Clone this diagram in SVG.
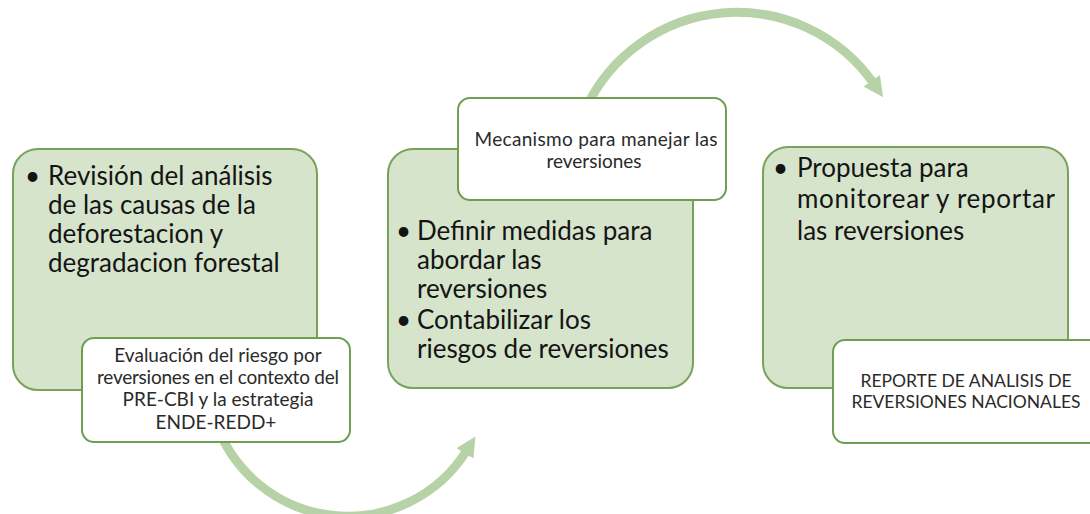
<svg xmlns="http://www.w3.org/2000/svg" width="1090" height="514" viewBox="0 0 1090 514">
<style>
.green{fill:#d6e4cc;stroke:#77a35a;stroke-width:2}
.white{fill:#ffffff;stroke:#6f9e50;stroke-width:2}
.big{font-family:Lato,"Liberation Sans",sans-serif;font-size:26px;fill:#141414}
.small{font-family:Lato,"Liberation Sans",sans-serif;font-size:19px;fill:#2a2a2a;text-anchor:middle}
.caps{font-size:17.5px}
.arc{fill:none;stroke:#b8d2a8;stroke-width:9}
</style>
<defs>
<marker id="ah" markerWidth="24" markerHeight="24" refX="4" refY="12" orient="auto" markerUnits="userSpaceOnUse">
<path d="M0,2 L20,12 L0,22 Z" fill="#b8d2a8"/>
</marker>
</defs>
<rect width="1090" height="514" fill="#ffffff"/>
<g id="connectors">
<path class="arc" d="M585,110 A167,167 0 0 1 874,84" marker-end="url(#ah)"/>
<path class="arc" d="M215,420 A140,140 0 0 0 467,450" marker-end="url(#ah)"/>
</g>
<g id="node-revision">
<rect class="green" x="13" y="149" width="304" height="241" rx="25"/>
<text class="big" x="25" y="185">•</text>
<text class="big" x="48" y="185">Revisión del análisis</text>
<text class="big" x="48" y="214">de las causas de la</text>
<text class="big" x="48" y="243">deforestacion y</text>
<text class="big" x="48" y="272">degradacion forestal</text>
</g>
<g id="node-evaluacion">
<rect class="white" x="82" y="338" width="268" height="104" rx="12"/>
<text class="small" x="218" y="362">Evaluación del riesgo por</text>
<text class="small" x="218" y="384" textLength="242">reversiones en el contexto del</text>
<text class="small" x="218" y="406">PRE-CBI y la estrategia</text>
<text class="small" x="216" y="429">ENDE-REDD+</text>
</g>
<g id="node-definir">
<rect class="green" x="388" y="149" width="305" height="239" rx="25"/>
<text class="big" x="396" y="240">•</text>
<text class="big" x="417" y="240">Definir medidas para</text>
<text class="big" x="417" y="269">abordar las</text>
<text class="big" x="417" y="298">reversiones</text>
<text class="big" x="396" y="329">•</text>
<text class="big" x="417" y="329">Contabilizar los</text>
<text class="big" x="417" y="358">riesgos de reversiones</text>
</g>
<g id="node-mecanismo">
<rect class="white" x="458" y="98" width="268" height="102" rx="12"/>
<text class="small" x="596" y="146" textLength="243">Mecanismo para manejar las</text>
<text class="small" x="594" y="168">reversiones</text>
</g>
<g id="node-propuesta">
<rect class="green" x="763" y="147" width="305" height="241" rx="25"/>
<text class="big" x="773" y="177">•</text>
<text class="big" x="797" y="177">Propuesta para</text>
<text class="big" x="797" y="208" textLength="258">monitorear y reportar</text>
<text class="big" x="797" y="240">las reversiones</text>
</g>
<g id="node-reporte">
<rect class="white" x="833" y="340" width="268" height="103" rx="12"/>
<text class="small caps" x="966" y="387">REPORTE DE ANALISIS DE</text>
<text class="small caps" x="966" y="408">REVERSIONES NACIONALES</text>
</g>
</svg>
